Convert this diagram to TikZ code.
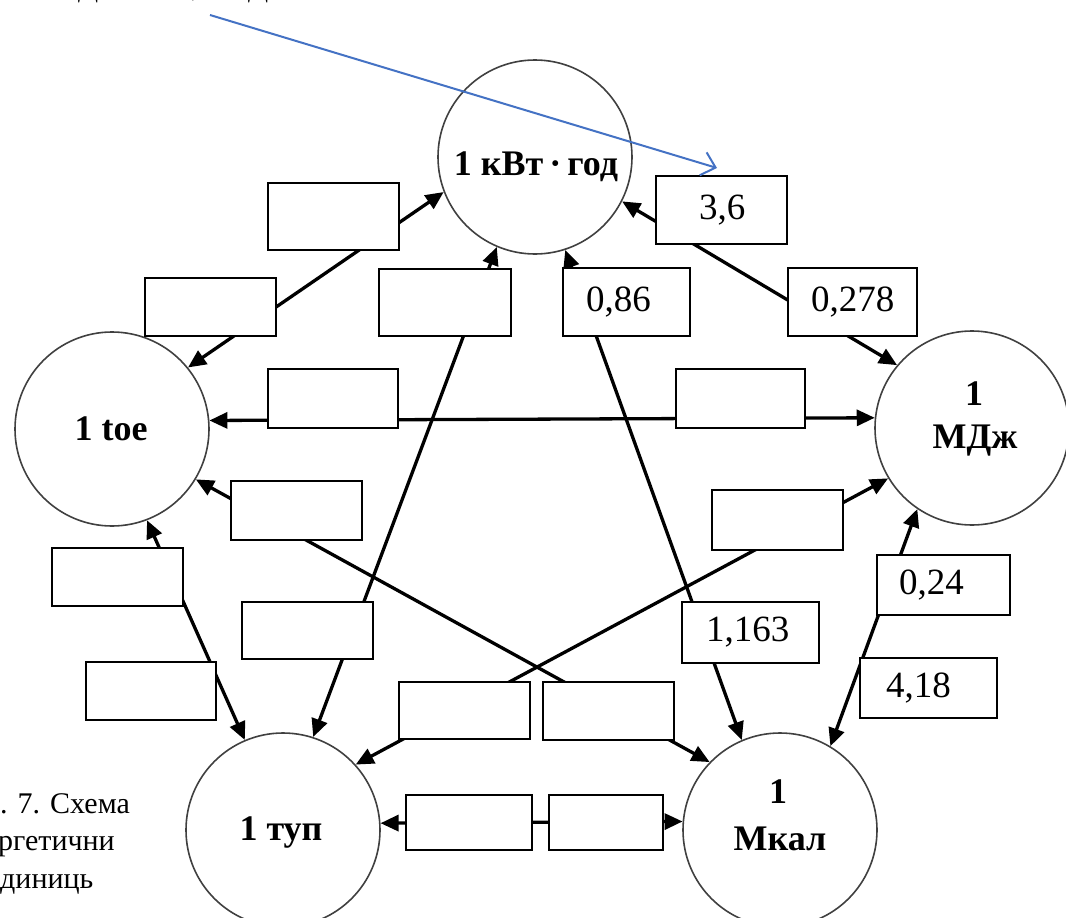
\documentclass[tikz,border=0pt]{standalone}
\usepackage{fontspec}
\setmainfont{Liberation Serif}
\usetikzlibrary{arrows.meta}
\definecolor{pointerblue}{RGB}{68,114,196}
\begin{document}
\begin{tikzpicture}[x=1pt,y=-1pt,
  circ/.style={draw=black!75, line width=1.6pt, circle, minimum size=194pt, inner sep=0pt, fill=white},
  clabel/.style={font=\fontsize{36}{44}\selectfont\bfseries, inner sep=0pt, anchor=base},
  conn/.style={line width=3.3pt, {Triangle[length=18pt,width=16pt]}-{Triangle[length=18pt,width=16pt]}},
  vbox/.style={draw=black, line width=2.2pt, fill=white, rectangle, inner sep=0pt},
  num/.style={font=\fontsize{37}{40}\selectfont, inner sep=0pt, anchor=west},
  pointer/.style={draw=pointerblue, line width=2pt, -{Straight Barb[length=13pt,width=24pt]}},
  caption/.style={font=\fontsize{30}{36}\selectfont, inner sep=0pt, anchor=base west}
]
\useasboundingbox (0,0) rectangle (1066,918);

% circles
\node[circ] (kwh) at (535,157) {};
\node[circ] (toe) at (112,429) {};
\node[circ] (mj) at (972,428) {};
\node[circ] (tup) at (283,830) {};
\node[circ] (mkal) at (780,830) {};

\node[clabel] (tkwh) at (536,175) {1 кВт\,·\,год};
\node[clabel] (ttoe) at (111,440) {1 toe};
\node[clabel] (tmj1) at (974,405) {1};
\node[clabel] (tmj2) at (975,448) {МДж};
\node[clabel] (ttup) at (281,840) {1 туп};
\node[clabel] (tmk1) at (778,803) {1};
\node[clabel] (tmk2) at (780,850) {Мкал};

% connectors
\draw[conn] (toe.39.6) -- (kwh.201.8);
\draw[conn] (kwh.333.9) -- (mj.140.2);
\draw[conn] (kwh.247.3) -- (tup.72.7);
\draw[conn] (kwh.288.2) -- (mkal.113.3);
\draw[conn] (toe.5.8) -- (mj.174.6);
\draw[conn] (toe.329.3) -- (mkal.136.5);
\draw[conn] (mj.211.2) -- (tup.42.4);
\draw[conn] (toe.291.5) -- (tup.113.8);
\draw[conn] (mj.236.6) -- (mkal.59.5);
\draw[conn] (tup.4.6) -- (mkal.175.4);

% value boxes
\node[vbox, minimum width=131pt, minimum height=67pt] (bA) at (333.5,216.5) {};
\node[vbox, minimum width=131pt, minimum height=58pt] (bB) at (210.5,307) {};
\node[vbox, minimum width=132pt, minimum height=67pt] (bC) at (445,302.5) {};
\node[vbox, minimum width=127pt, minimum height=68pt] (b086) at (626.5,302) {};
\node[vbox, minimum width=131pt, minimum height=68pt] (b36) at (721.5,210) {};
\node[vbox, minimum width=129pt, minimum height=68pt] (b0278) at (852.5,302) {};
\node[vbox, minimum width=130pt, minimum height=59pt] (bD) at (333,398.5) {};
\node[vbox, minimum width=129pt, minimum height=59pt] (bE) at (740.5,398.5) {};
\node[vbox, minimum width=131pt, minimum height=59pt] (bF) at (296.5,510.5) {};
\node[vbox, minimum width=131pt, minimum height=60pt] (bG) at (777.5,520) {};
\node[vbox, minimum width=131pt, minimum height=58pt] (bH) at (117.5,577) {};
\node[vbox, minimum width=130pt, minimum height=58pt] (bI) at (151,691) {};
\node[vbox, minimum width=131pt, minimum height=57pt] (bJ) at (307.5,630.5) {};
\node[vbox, minimum width=137pt, minimum height=61pt] (b1163) at (750.5,632.5) {};
\node[vbox, minimum width=133pt, minimum height=60pt] (b024) at (943.5,585) {};
\node[vbox, minimum width=137pt, minimum height=60pt] (b418) at (928.5,688) {};
\node[vbox, minimum width=131pt, minimum height=57pt] (bK) at (464.5,710.5) {};
\node[vbox, minimum width=131pt, minimum height=58pt] (bL) at (608.5,711) {};
\node[vbox, minimum width=126pt, minimum height=55pt] (bM) at (469,822.5) {};
\node[vbox, minimum width=114pt, minimum height=55pt] (bN) at (606,822.5) {};

% numbers
\node[num] (n36) at ([xshift=44pt]b36.west) {3,6};
\node[num] (n086) at ([xshift=24pt]b086.west) {0,86};
\node[num] (n0278) at ([xshift=24pt]b0278.west) {0,278};
\node[num] (n024) at ([xshift=23pt]b024.west) {0,24};
\node[num] (n418) at ([xshift=27pt]b418.west) {4,18};
\node[num] (n1163) at ([xshift=25pt]b1163.west) {1,163};

% blue pointer
\coordinate (ps) at (210,15);
\coordinate (pe) at (717,168);
\draw[pointer] (ps) -- (pe);

% cropped texts
\node[caption, anchor=base] (f1) at (88,-4) {Д};
\node[caption, anchor=base] (f2) at (195,-4) {,};
\node[caption, anchor=base] (f3) at (258,-4) {Д};
\node[caption] (c1) at (0,813) {. 7. Схема};
\node[caption] (c2) at (-2,850) {ргетични};
\node[caption] (c3) at (0,888) {диниць};
\end{tikzpicture}
\end{document}
